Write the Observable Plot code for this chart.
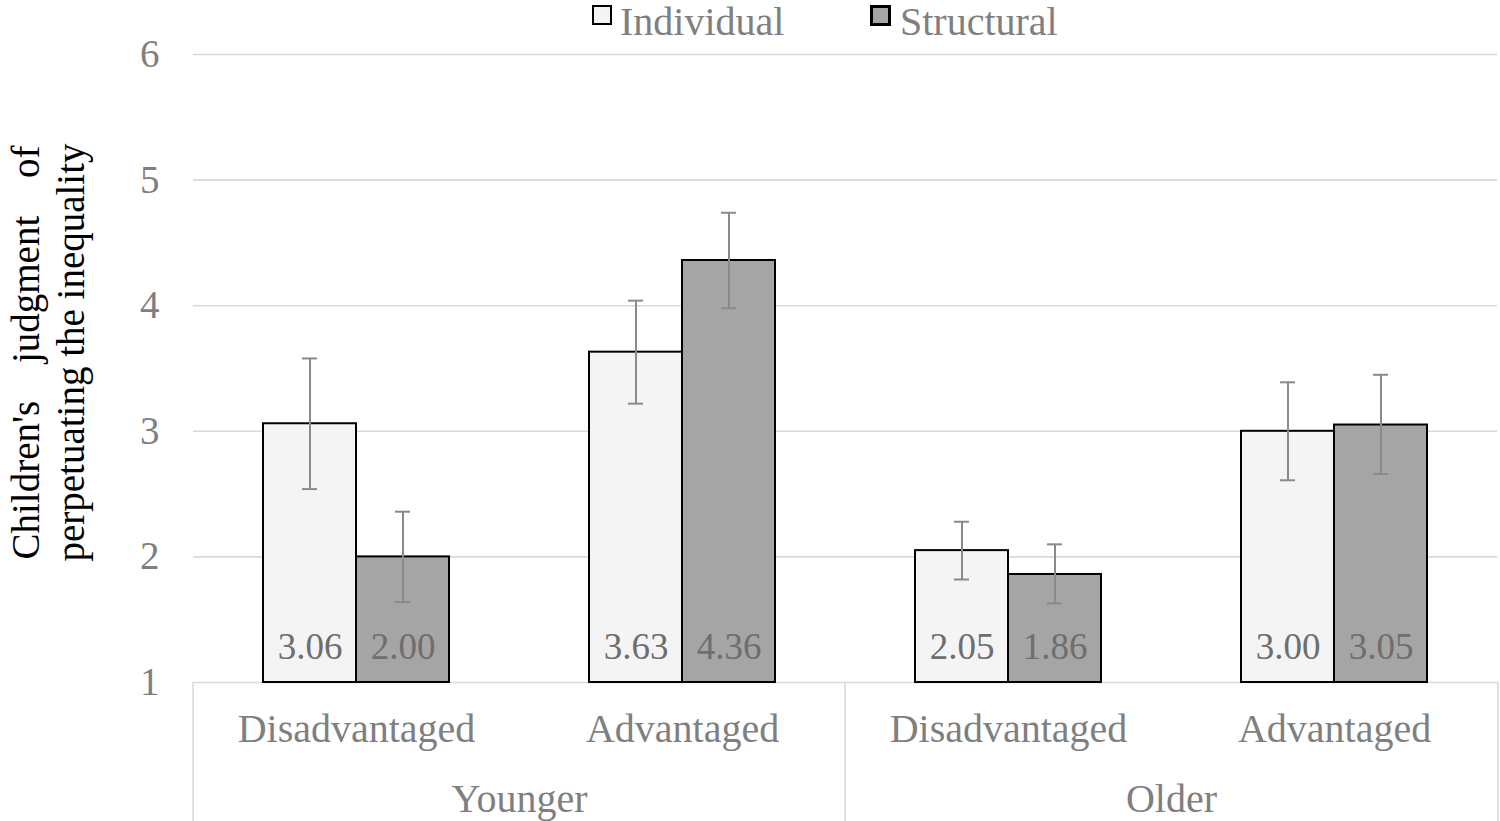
<!DOCTYPE html>
<html>
<head>
<meta charset="utf-8">
<script src="https://cdn.jsdelivr.net/npm/d3@7"></script>
<script src="https://cdn.jsdelivr.net/npm/@observablehq/plot@0.6"></script>
<style>
  html, body { margin: 0; padding: 0; background: #ffffff; }
  #wrap { position: relative; width: 1500px; height: 821px; font-family: "Liberation Serif", "Times New Roman", serif; }
  #legend { position: absolute; top: 0; left: 0; width: 1500px; height: 44px; }
  .sw { position: absolute; box-sizing: border-box; border-style: solid; border-color: #000; }
  .lb { position: absolute; font-size: 40px; line-height: 40px; color: #7f7f7f; white-space: nowrap; }
</style>
</head>
<body>
<div id="wrap"><div id="chart"></div><div id="legend"></div></div>
<script>
// ---- data ----
const categories = ["Younger|Disadvantaged", "Younger|Advantaged", "Older|Disadvantaged", "Older|Advantaged"];
const ageOfCategory = ["Younger", "Younger", "Older", "Older"];
const statusOfCategory = ["Disadvantaged", "Advantaged", "Disadvantaged", "Advantaged"];
const series = ["Individual", "Structural"];
const seriesColors = ["#f4f4f4", "#a5a5a5"];
const individualMean = [3.06, 3.63, 2.05, 3.00];
const structuralMean = [2.00, 4.36, 1.86, 3.05];
const individualLow  = [2.54, 3.22, 1.82, 2.61];
const individualHigh = [3.58, 4.04, 2.28, 3.39];
const structuralLow  = [1.64, 3.98, 1.63, 2.66];
const structuralHigh = [2.36, 4.74, 2.10, 3.45];
const yTicks = [1, 2, 3, 4, 5, 6];
const yTitle = ["Children's judgment of", "perpetuating the inequality"];

// ---- build table ----
const rows = [];
categories.forEach((c, i) => {
  rows.push({category: c, series: series[0], mean: individualMean[i], low: individualLow[i], high: individualHigh[i]});
  rows.push({category: c, series: series[1], mean: structuralMean[i], low: structuralLow[i], high: structuralHigh[i]});
});
// age label sits at the right edge of the first category of each age group
const ageLabels = categories
  .map((c, i) => ({key: c, age: ageOfCategory[i], first: i === 0 || ageOfCategory[i - 1] !== ageOfCategory[i]}))
  .filter(d => d.first);
// separators: left edge of each age group's first category, right edge of the last category
const sepLeft = ageLabels.map(d => ({key: d.key}));
const sepRight = [{key: categories[categories.length - 1]}];

// ---- layout ----
const W = 1500, H = 821, mL = 191, mR = 2, mT = 54, mB = 139;
const facetW = (W - mL - mR) / categories.length;
const plotH = H - mT - mB;
const gray = "#7f7f7f";
const lineGray = "#d9d9d9";
const fontSize = 39;

const chart = Plot.plot({
  width: W, height: H,
  marginLeft: mL, marginRight: mR, marginTop: mT, marginBottom: mB,
  style: {fontFamily: "Liberation Serif, Times New Roman, serif", background: "transparent", overflow: "visible"},
  fx: {domain: categories, padding: 0, axis: null},
  x: {domain: series, paddingInner: 0, paddingOuter: 0.74, axis: null},
  y: {domain: [yTicks[0], yTicks[yTicks.length - 1]]},
  color: {domain: series, range: seriesColors},
  marks: [
    Plot.ruleY(yTicks.slice(1), {stroke: lineGray, strokeWidth: 1.6}),
    Plot.ruleY([yTicks[0]], {stroke: lineGray, strokeWidth: 1.6}),
    Plot.ruleX(sepLeft, {fx: "key", x: null, dx: -facetW / 2, insetTop: plotH, insetBottom: -mB, stroke: lineGray, strokeWidth: 1.6}),
    Plot.ruleX(sepRight, {fx: "key", x: null, dx: facetW / 2, insetTop: plotH, insetBottom: -mB, stroke: lineGray, strokeWidth: 1.6}),
    Plot.barY(rows, {fx: "category", x: "series", y1: yTicks[0], y2: "mean", fill: "series", stroke: "#000", strokeWidth: 2}),
    Plot.ruleX(rows, {fx: "category", x: "series", y1: "low", y2: "high", stroke: "#8a8a8a", strokeWidth: 2}),
    Plot.tickY(rows, {fx: "category", x: "series", y: "low", insetLeft: 39, insetRight: 39, stroke: "#8a8a8a", strokeWidth: 2}),
    Plot.tickY(rows, {fx: "category", x: "series", y: "high", insetLeft: 39, insetRight: 39, stroke: "#8a8a8a", strokeWidth: 2}),
    Plot.text(rows, {fx: "category", x: "series", y: yTicks[0], text: d => d.mean.toFixed(2), lineAnchor: "bottom", dy: -24, fontSize: 37, fill: "#6e6e6e"}),
    Plot.axisY(yTicks, {tickSize: 0, tickPadding: 34, fontSize: fontSize, fill: gray, label: null, tickFormat: d => String(d)}),
    Plot.text(categories, {fx: d => d, text: (d, i) => statusOfCategory[i], frameAnchor: "bottom", textAnchor: "middle", lineAnchor: "bottom", dy: 59, fontSize: 40, fill: gray}),
    Plot.text(ageLabels, {fx: "key", text: "age", frameAnchor: "bottom-right", textAnchor: "middle", lineAnchor: "bottom", dy: 129, fontSize: 40, fill: gray}),
    Plot.text([yTitle[0]], {fx: () => categories[0], text: d => d, frameAnchor: "left", textAnchor: "middle", rotate: -90, lineAnchor: "bottom", dx: 36 - mL, dy: -16, fontSize: fontSize, fill: "#000", className: "ytitle-justified"}),
    Plot.text([yTitle[1]], {fx: () => categories[0], text: d => d, frameAnchor: "left", textAnchor: "middle", rotate: -90, lineAnchor: "bottom", dx: 81 - mL, dy: -16, fontSize: fontSize, fill: "#000"})
  ]
});
// the first title line is justified to the width of the second one in the reference
chart.querySelectorAll(".ytitle-justified text").forEach(t => t.setAttribute("word-spacing", "28px"));
document.getElementById("chart").appendChild(chart);

// ---- legend (HTML, overlaid at the top) ----
const legend = document.getElementById("legend");
const legendPos = [{sw: 591.5, lb: 620, size: 20, border: 2}, {sw: 870, lb: 900, size: 21, border: 3}];
series.forEach((s, i) => {
  const sw = document.createElement("div");
  sw.className = "sw";
  Object.assign(sw.style, {left: legendPos[i].sw + "px", top: "5px", width: legendPos[i].size + "px", height: legendPos[i].size + "px", borderWidth: legendPos[i].border + "px", background: seriesColors[i]});
  legend.appendChild(sw);
  const lb = document.createElement("div");
  lb.className = "lb";
  lb.textContent = s;
  Object.assign(lb.style, {left: legendPos[i].lb + "px", top: "2px"});
  legend.appendChild(lb);
});
</script>
</body>
</html>
